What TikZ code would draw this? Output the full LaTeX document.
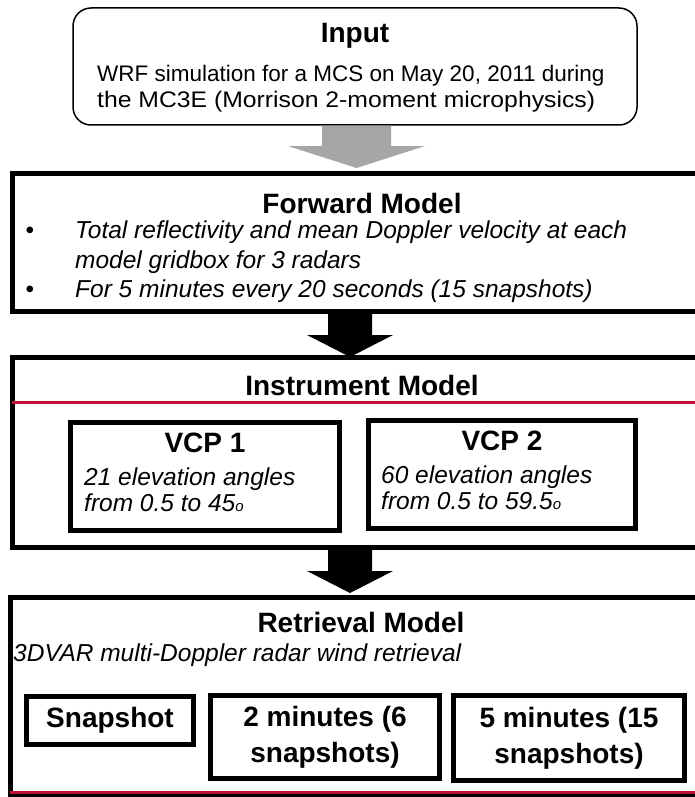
\documentclass[tikz,border=0pt]{standalone}
\usepackage{fontspec}
\setmainfont{Liberation Sans}
\usetikzlibrary{calc}
\definecolor{arrowgray}{RGB}{166,166,166}
\definecolor{myred}{RGB}{190,16,52}
\newcommand{\blockarr}[6]{%
  \fill[#1] let \p1=(#2), \p2=(#3) in
    (\x1-#4pt,\y1) -- (\x1+#4pt,\y1) -- (\x1+#4pt,\y2+#6pt) -- (\x1+#5pt,\y2+#6pt)
    -- (\x1,\y2) -- (\x1-#5pt,\y2+#6pt) -- (\x1-#4pt,\y2+#6pt) -- cycle;}
\begin{document}
\begin{tikzpicture}[x=1pt,y=-1pt,
  bigbox/.style={draw, line width=5pt, inner sep=0pt},
  innerbox/.style={draw, line width=5pt, inner sep=0pt},
  inbox/.style={draw, line width=1.5pt, rounded corners=18pt, inner sep=0pt},
  ttl/.style={font=\fontsize{28}{36}\selectfont\bfseries, inner sep=0pt},
  body/.style={font=\fontsize{22.5}{24.5}\selectfont, inner sep=0pt},
  ital/.style={font=\fontsize{24.5}{29.5}\selectfont\itshape, inner sep=0pt},
  bul/.style={font=\fontsize{24.5}{29.5}\selectfont, inner sep=0pt},
  redline/.style={draw=myred, line width=3pt}]
\useasboundingbox (0,0) rectangle (695,797);
\clip (0,0) rectangle (695,797);
\fill[white] (0,0) rectangle (695,797);

% ---------- boxes ----------
\node[inbox, minimum width=564pt, minimum height=117pt] (input) at (355,66.5) {};
\node[bigbox, minimum width=700pt, minimum height=138pt] (fwd) at (362,242.5) {};
\node[bigbox, minimum width=700pt, minimum height=190pt] (instr) at (362,452.5) {};
\node[bigbox, minimum width=702pt, minimum height=198pt] (retr) at (361,696.5) {};

% ---------- arrows ----------
\coordinate (g1) at ([xshift=1.5pt]input.south);
\coordinate (g2) at ([yshift=3pt]g1 |- fwd.north);
\blockarr{arrowgray}{g1}{g2}{34.5}{68.5}{22}

\coordinate (a1) at ([xshift=-12pt]fwd.south);
\coordinate (a1e) at ([yshift=-2pt]a1 |- instr.north);
\blockarr{black}{a1}{a1e}{22}{43}{22}
\coordinate (a2) at ([xshift=-12pt]instr.south);
\coordinate (a2e) at ([yshift=2pt]a2 |- retr.north);
\blockarr{black}{a2}{a2e}{22}{43}{22}

% ---------- input text ----------
\node[ttl, anchor=base] (inT) at (355,43) {Input};
\node[body, anchor=base west] (inL1) at (97,82) {WRF simulation for a MCS on May 20, 2011 during};
\node[body, anchor=base west] (inL2) at (97,107) {\scalebox{1.1}[1]{the MC3E (Morrison 2-moment microphysics)}};

% ---------- forward model ----------
\node[ttl, anchor=base] (fT) at (362,213) {Forward Model};
\node[bul, anchor=base] (b1) at (30,238) {\textbullet};
\node[ital, anchor=base west] (fL1) at (75,238) {Total reflectivity and mean Doppler velocity at each};
\node[ital, anchor=base west] (fL2) at (75,268) {model gridbox for 3 radars};
\node[bul, anchor=base] (b2) at (30,297) {\textbullet};
\node[ital, anchor=base west] (fL3) at (75,297) {For 5 minutes every 20 seconds (15 snapshots)};

% ---------- instrument model ----------
\node[ttl, anchor=base] (iT) at (362,395) {Instrument Model};
\draw[redline] ([yshift=-47pt]instr.north west) ++(2.5,0) coordinate (r1a)
  -- ([yshift=-47pt]instr.north east) coordinate (r1b);
\node[innerbox, minimum width=269pt, minimum height=108pt] (vcp1) at (205,476.5) {};
\node[innerbox, minimum width=267pt, minimum height=108pt] (vcp2) at (502,474.5) {};
\node[ttl, anchor=base] (v1T) at (205,452) {VCP 1};
\node[ital, anchor=base west] (v1L1) at (84,485) {21 elevation angles};
\node[ital, anchor=base west] (v1L2) at (84,511) {from 0.5 to 45{\fontsize{15}{15}\selectfont o}};
\node[ttl, anchor=base] (v2T) at (502,450) {VCP 2};
\node[ital, anchor=base west] (v2L1) at (381,483) {60 elevation angles};
\node[ital, anchor=base west] (v2L2) at (381,509) {from 0.5 to 59.5{\fontsize{15}{15}\selectfont o}};

% ---------- retrieval model ----------
\node[ttl, anchor=base] (rT) at (361,632) {Retrieval Model};
\node[ital, anchor=base west] (rS) at (13,661) {3DVAR multi-Doppler radar wind retrieval};
\node[innerbox, ttl, draw, line width=5pt, minimum width=167pt, minimum height=48pt] (snap) at (110,720.5) {Snapshot};
\node[innerbox, ttl, draw, line width=5pt, align=center, minimum width=229pt, minimum height=83pt] (two) at (325,737) {2 minutes (6\\snapshots)};
\node[innerbox, ttl, draw, line width=5pt, align=center, minimum width=231pt, minimum height=85pt] (five) at (569,738) {5 minutes (15\\snapshots)};
\draw[redline] ([yshift=5.5pt]retr.south west) ++(2.5,0) coordinate (r2a)
  -- ([yshift=5.5pt]retr.south east) coordinate (r2b);
\end{tikzpicture}
\end{document}
